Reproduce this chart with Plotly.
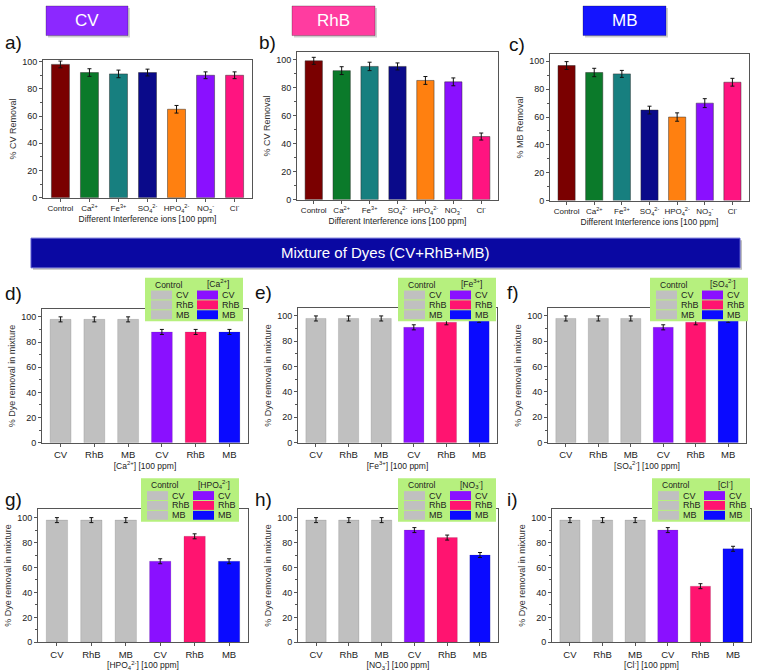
import plotly.graph_objects as go

W, H = 758, 671
FONT = "Arial, Liberation Sans, sans-serif"

# ---------------- data ----------------
ion_labels = ["Control", "Ca<sup>2+</sup>", "Fe<sup>3+</sup>", "SO<sub>4</sub><sup>2-</sup>",
              "HPO<sub>4</sub><sup>2-</sup>", "NO<sub>3</sub><sup>-</sup>", "Cl<sup>-</sup>"]
ion_colors = ["#7a0000", "#0b7a2a", "#177f7f", "#0a0a8a", "#ff8010", "#8a10ff", "#ff1480"]
cv_removal = [98, 92, 91, 92, 65, 90, 90]
cv_err = [2.5, 2.8, 2.8, 2.5, 2.8, 2.5, 2.5]
rhb_removal = [99, 92, 95, 95, 85, 84, 45]
rhb_err = [2.5, 2.8, 3.0, 2.5, 2.8, 2.8, 2.5]
mb_removal = [97, 92, 91, 65, 60, 70, 85]
mb_err = [2.8, 3.0, 2.5, 2.8, 3.0, 3.2, 2.8]

dye_labels = ["CV", "RhB", "MB", "CV", "RhB", "MB"]
control_mix = [98, 98, 98]
ca_mix = [88, 88, 88]
fe_mix = [91, 95, 97]
so4_mix = [91, 95, 97]
hpo4_mix = [65, 85, 65]
no3_mix = [90, 84, 70]
cl_mix = [90, 45, 75]
mix_err = [2, 2, 2, 2, 2, 2]
mix_colors = ["#c0c0c0", "#c0c0c0", "#c0c0c0", "#8a10ff", "#ff1470", "#0a0aff"]

mix_ions = ["[Ca<sup>2+</sup>]", "[Fe<sup>3+</sup>]", "[SO<sub>4</sub><sup>2-</sup>]",
            "[HPO<sub>4</sub><sup>2-</sup>]", "[NO<sub>3</sub><sup>-</sup>]", "[Cl<sup>-</sup>]"]
mix_values = [ca_mix, fe_mix, so4_mix, hpo4_mix, no3_mix, cl_mix]

# ---------------- layout helpers (pixel boxes) ----------------
def xd(x0, x1):
    return [x0 / W, x1 / W]

def yd(y0, y1):  # y0 top, y1 bottom in pixels
    return [1 - y1 / H, 1 - y0 / H]

top_boxes = [(43, 252, 58, 197, 101), (297, 498, 50, 199, 105), (550, 749, 52, 200, 105)]
mid_boxes = [(42, 248, 310, 445, 106), (298, 497, 309, 445, 106), (548, 746, 309, 445, 106),
             (38, 248, 512, 647, 107), (298, 498, 512, 647, 107), (552, 751, 512, 647, 107)]

fig = go.Figure()
layout = dict(
    width=W, height=H, margin=dict(l=0, r=0, t=0, b=0),
    paper_bgcolor="white", plot_bgcolor="white",
    font=dict(family=FONT, color="#222"), showlegend=False, bargap=0.35,
)

axis_common = dict(showline=True, linecolor="#555", linewidth=1, mirror=True,
                   ticks="outside", ticklen=3, tickcolor="#555", showgrid=False, zeroline=False)

top_data = [(cv_removal, cv_err, "% CV Removal"),
            (rhb_removal, rhb_err, "% CV Removal"),
            (mb_removal, mb_err, "% MB Removal")]

idx = 0
for (vals, errs, ytitle), (x0, x1, y0, y1, ytop) in zip(top_data, top_boxes):
    idx += 1
    sfx = "" if idx == 1 else str(idx)
    fig.add_trace(go.Bar(
        x=list(range(len(ion_labels))), y=vals, marker_color=ion_colors,
        marker_line=dict(color="rgba(40,40,40,0.6)", width=0.8), width=0.62,
        error_y=dict(type="data", array=errs, color="#111", thickness=1, width=2),
        xaxis="x" + sfx, yaxis="y" + sfx))
    layout["xaxis" + sfx] = dict(axis_common, domain=xd(x0, x1), anchor="y" + sfx,
                                 range=[-0.6, 6.6], tickvals=list(range(7)), ticktext=ion_labels,
                                 tickfont=dict(size=8, color="#222"),
                                 title=dict(text="Different Interference ions [100 ppm]",
                                            font=dict(size=8.5, color="#222"), standoff=3))
    layout["yaxis" + sfx] = dict(axis_common, domain=yd(y0, y1), anchor="x" + sfx,
                                 range=[0, ytop], tickvals=[0, 20, 40, 60, 80, 100],
                                 tickfont=dict(size=9, color="#222"),
                                 minor=dict(ticks="outside", ticklen=2, dtick=10, tickcolor="#555"),
                                 title=dict(text=ytitle, font=dict(size=9, color="#333"), standoff=4))

for k, ((x0, x1, y0, y1, ytop), ionname, vals) in enumerate(zip(mid_boxes, mix_ions, mix_values)):
    idx += 1
    sfx = str(idx)
    fig.add_trace(go.Bar(
        x=list(range(6)), y=control_mix + vals, marker_color=mix_colors,
        marker_line=dict(color="rgba(60,60,60,0.3)", width=0.5), width=0.62,
        error_y=dict(type="data", array=mix_err, color="#111", thickness=1, width=2),
        xaxis="x" + sfx, yaxis="y" + sfx))
    layout["xaxis" + sfx] = dict(axis_common, domain=xd(x0, x1), anchor="y" + sfx,
                                 range=[-0.55, 5.55], tickvals=list(range(6)), ticktext=dye_labels,
                                 tickfont=dict(size=9.5, color="#222"),
                                 title=dict(text=ionname + " [100 ppm]",
                                            font=dict(size=8.5, color="#222"), standoff=2))
    layout["yaxis" + sfx] = dict(axis_common, domain=yd(y0, y1), anchor="x" + sfx,
                                 range=[0, ytop], tickvals=[0, 20, 40, 60, 80, 100],
                                 tickfont=dict(size=9, color="#222"),
                                 minor=dict(ticks="outside", ticklen=2, dtick=10, tickcolor="#555"),
                                 title=dict(text="% Dye removal in mixture",
                                            font=dict(size=9, color="#333"), standoff=4))

shapes = []
annotations = []

def px_rect(x0, y0, x1, y1, color, line=None):
    shapes.append(dict(type="rect", xref="paper", yref="paper",
                       x0=x0 / W, x1=x1 / W, y0=1 - y1 / H, y1=1 - y0 / H,
                       fillcolor=color, line=line or dict(width=0), layer="above"))

def px_text(x, y, text, size, color="#222", xanchor="center"):
    annotations.append(dict(xref="paper", yref="paper", x=x / W, y=1 - y / H, text=text,
                            showarrow=False, xanchor=xanchor, yanchor="middle",
                            font=dict(size=size, color=color, family=FONT)))

# title boxes
for (x0, x1, col, txt) in [(46, 128, "#8c28ff", "CV"), (292, 375, "#ff3ca0", "RhB"),
                           (583, 666, "#1414ff", "MB")]:
    px_rect(x0 + 2, 5, x1 + 2, 35, "rgba(0,0,0,0.18)")
    px_rect(x0, 3, x1, 33, col, dict(color="rgba(0,0,0,0.25)", width=1))
    px_text((x0 + x1) / 2, 18, txt, 17, "white")

# banner
px_rect(33, 240, 742, 270, "rgba(0,0,0,0.25)")
px_rect(31, 238, 740, 268, "#0a08a2", dict(color="#5a5ad0", width=1))
px_text(385, 253, "Mixture of Dyes (CV+RhB+MB)", 15, "white")

# panel letters
for (x, y, t) in [(3, 40, "a)"), (257, 40, "b)"), (507, 42, "c)"),
                  (3, 294, "d)"), (253, 293, "e)"), (505, 293, "f)"),
                  (3, 502, "g)"), (253, 502, "h)"), (505, 502, "i)")]:
    px_text(x, y, t, 19, "#111", xanchor="left")

# legends
legend_pos = [(145, 278), (398, 278), (650, 278), (141, 481), (398, 481), (652, 481)]
for (lx, ly), ionname in zip(legend_pos, mix_ions):
    w, h = 98, 44
    px_rect(lx, ly, lx + w, ly + h, "#b6f07e")
    px_text(lx + 24, ly + 7, "Control", 8.5)
    px_text(lx + 73, ly + 6, ionname, 8.5)
    rows = [ly + 13, ly + 23, ly + 33]
    for r, (lab, col) in enumerate(zip(["CV", "RhB", "MB"], ["#8a10ff", "#ff1470", "#0a0aff"])):
        px_rect(lx + 6, rows[r], lx + 27, rows[r] + 9, "#c0c0c0")
        px_text(lx + 29, rows[r] + 4.5, lab, 9, xanchor="left")
        px_rect(lx + 52, rows[r], lx + 73, rows[r] + 9, col)
        px_text(lx + 75, rows[r] + 4.5, lab, 9, xanchor="left")

layout["shapes"] = shapes
layout["annotations"] = annotations
fig.update_layout(**layout)
fig.write_html("out.html", config={"displayModeBar": False},
               post_script="document.body.style.margin='0';")
